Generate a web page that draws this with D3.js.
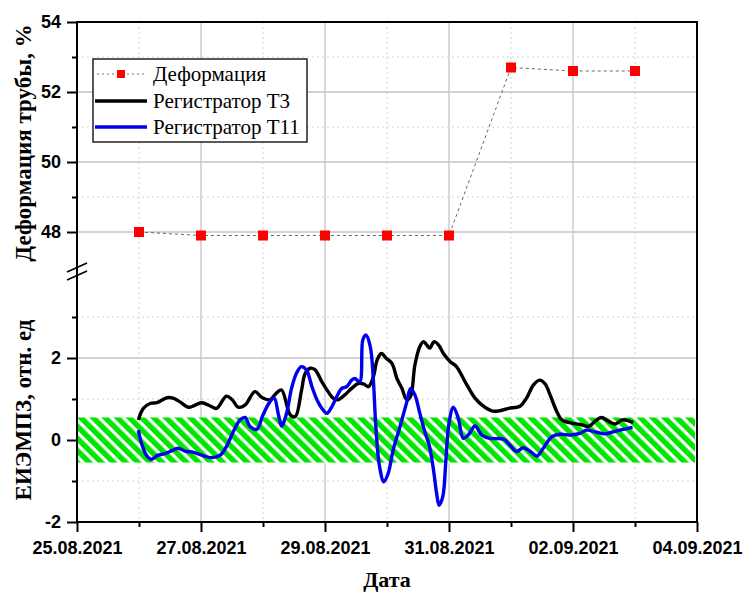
<!DOCTYPE html>
<html>
<head>
<meta charset="utf-8">
<script src="https://cdn.jsdelivr.net/npm/d3@7"></script>
<style>
  body { margin: 0; background: #fff; }
  .serif { font-family: "Liberation Serif", "Times New Roman", Times, serif; }
  .sans { font-family: "Liberation Sans", Arial, Helvetica, sans-serif; font-weight: bold; }
</style>
</head>
<body>
<div id="chart"></div>
<script>
// Deformation (days from 25.08.2021)
const deformDays = [1, 2, 3, 4, 5, 6, 7, 8, 9];
const deformValues = [48.0, 47.9, 47.9, 47.9, 47.9, 47.9, 52.7, 52.6, 52.6];

// Registrator T3
const t3Days = [0.99,1.07,1.18,1.29,1.45,1.55,1.66,1.80,1.88,2.01,2.15,2.25,2.41,2.50,2.60,2.71,2.87,2.98,3.11,3.22,3.30,3.44,3.52,3.62,3.68,3.76,3.84,3.95,4.05,4.13,4.21,4.32,4.43,4.54,4.62,4.70,4.78,4.84,4.91,4.99,5.08,5.16,5.24,5.32,5.38,5.45,5.53,5.59,5.64,5.69,5.76,5.83,5.91,6.02,6.12,6.26,6.42,6.55,6.69,6.80,6.96,7.15,7.25,7.36,7.46,7.55,7.63,7.74,7.82,7.98,8.14,8.25,8.35,8.46,8.57,8.68,8.79,8.89,8.97];
const t3Values = [0.49,0.77,0.89,0.91,1.03,1.02,0.93,0.80,0.83,0.91,0.83,0.77,1.07,0.99,0.80,0.85,1.18,1.04,0.98,1.15,1.22,0.61,0.57,1.20,1.62,1.75,1.71,1.42,1.18,1.02,0.98,1.10,1.26,1.38,1.37,1.30,1.54,1.95,2.11,1.99,1.87,1.50,1.26,0.98,1.06,1.83,2.28,2.40,2.32,2.24,2.40,2.32,2.11,1.91,1.79,1.42,1.02,0.83,0.71,0.71,0.77,0.83,1.02,1.34,1.46,1.37,1.10,0.69,0.49,0.41,0.37,0.33,0.45,0.55,0.46,0.39,0.49,0.47,0.43];

// Registrator T11
const t11Days = [0.99,1.04,1.12,1.20,1.31,1.42,1.53,1.63,1.74,1.88,2.01,2.15,2.31,2.41,2.52,2.63,2.71,2.79,2.90,3.00,3.11,3.18,3.25,3.30,3.38,3.46,3.54,3.62,3.70,3.79,3.87,3.95,4.03,4.11,4.19,4.27,4.35,4.43,4.48,4.56,4.61,4.66,4.73,4.78,4.82,4.88,4.95,5.02,5.10,5.21,5.32,5.38,5.45,5.53,5.61,5.68,5.75,5.80,5.84,5.90,5.95,6.00,6.07,6.15,6.23,6.31,6.42,6.53,6.66,6.88,6.98,7.09,7.20,7.31,7.42,7.52,7.66,7.79,7.95,8.11,8.22,8.38,8.52,8.65,8.81,8.96];
const t11Values = [0.24,-0.08,-0.37,-0.47,-0.37,-0.33,-0.26,-0.20,-0.27,-0.30,-0.37,-0.43,-0.37,-0.16,0.20,0.49,0.55,0.33,0.26,0.61,0.93,1.02,0.61,0.34,0.65,1.26,1.63,1.79,1.71,1.30,0.98,0.77,0.65,0.81,1.06,1.26,1.30,1.46,1.50,1.42,2.44,2.56,2.28,1.46,0.33,-0.65,-1.02,-0.81,-0.24,0.33,0.93,1.26,1.10,0.65,0.20,-0.12,-0.73,-1.30,-1.59,-1.38,-0.49,0.41,0.80,0.53,0.04,0.12,0.34,0.12,0.04,0.02,-0.12,-0.28,-0.19,-0.28,-0.39,-0.20,0.08,0.14,0.12,0.16,0.24,0.19,0.15,0.20,0.26,0.31];

// Ticks and band
const xTickLabels = ["25.08.2021", "27.08.2021", "29.08.2021", "31.08.2021", "02.09.2021", "04.09.2021"];
const topMajorTicks = [48, 50, 52, 54];
const topMinorTicks = [49, 51, 53];
const bottomMajorTicks = [-2, 0, 2];
const bottomMinorTicks = [-1, 1, 3];
const bandRange = [-0.55, 0.55];
const legendLabels = ["Деформация", "Регистратор Т3", "Регистратор Т11"];

const startDate = new Date(2021, 7, 25);
const toDate = d => new Date(startDate.getTime() + d * 86400000);
const parseLabel = s => { let p = s.split("."); return new Date(+p[2], +p[1] - 1, +p[0]); };

let svgW = 743, svgH = 594;
let plotL = 77, plotR = 697, plotT = 22, plotB = 522;

let svg = d3.select("#chart")
    .append("svg")
    .attr("width", svgW)
    .attr("height", svgH);

// Scales
let x = d3.scaleTime()
    .domain([startDate, parseLabel("04.09.2021")])
    .range([plotL, plotR]);
let yTop = d3.scaleLinear().domain([47, 54]).range([267, plotT]);
let yBot = d3.scaleLinear().domain([-2, 4]).range([plotB, 276]);

let majorDates = xTickLabels.map(parseLabel);
let minorDates = d3.range(0, 5).map(i => d3.timeDay.offset(majorDates[i], 1));

// Hatch pattern
let defs = svg.append("defs");
let pat = defs.append("pattern")
    .attr("id", "hatch")
    .attr("patternUnits", "userSpaceOnUse")
    .attr("width", 8.6)
    .attr("height", 8.6)
    .attr("patternTransform", "rotate(-45)");
pat.append("rect").attr("width", 8.6).attr("height", 8.6).attr("fill", "#fff");
pat.append("rect").attr("width", 5.4).attr("height", 8.6).attr("fill", "#00e600");

// Grid lines
let grid = svg.append("g");
grid.selectAll(".vmaj").data(majorDates.slice(1, -1)).enter().append("line")
    .attr("x1", d => x(d)).attr("x2", d => x(d))
    .attr("y1", plotT).attr("y2", plotB)
    .attr("stroke", "#c4c4c4").attr("stroke-width", 1.3);
grid.selectAll(".vmin").data(minorDates).enter().append("line")
    .attr("x1", d => x(d)).attr("x2", d => x(d))
    .attr("y1", plotT).attr("y2", plotB)
    .attr("stroke", "#d4d4d4").attr("stroke-width", 1).attr("stroke-dasharray", "2,3");
grid.selectAll(".htmaj").data([48, 50, 52]).enter().append("line")
    .attr("x1", plotL).attr("x2", plotR)
    .attr("y1", d => yTop(d)).attr("y2", d => yTop(d))
    .attr("stroke", "#c4c4c4").attr("stroke-width", 1.3);
grid.selectAll(".htmin").data(topMinorTicks).enter().append("line")
    .attr("x1", plotL).attr("x2", plotR)
    .attr("y1", d => yTop(d)).attr("y2", d => yTop(d))
    .attr("stroke", "#d4d4d4").attr("stroke-width", 1).attr("stroke-dasharray", "2,3");
grid.selectAll(".hbmaj").data([0, 2]).enter().append("line")
    .attr("x1", plotL).attr("x2", plotR)
    .attr("y1", d => yBot(d)).attr("y2", d => yBot(d))
    .attr("stroke", "#c4c4c4").attr("stroke-width", 1.3);
grid.selectAll(".hbmin").data(bottomMinorTicks).enter().append("line")
    .attr("x1", plotL).attr("x2", plotR)
    .attr("y1", d => yBot(d)).attr("y2", d => yBot(d))
    .attr("stroke", "#d4d4d4").attr("stroke-width", 1).attr("stroke-dasharray", "2,3");

// Hatched band
svg.append("rect")
    .attr("x", plotL)
    .attr("y", yBot(bandRange[1]))
    .attr("width", plotR - plotL - 2)
    .attr("height", yBot(bandRange[0]) - yBot(bandRange[1]))
    .attr("fill", "url(#hatch)");

// Lines
let lineBot = d3.line()
    .x(d => x(toDate(d[0])))
    .y(d => yBot(d[1]))
    .curve(d3.curveCatmullRom);

svg.append("path")
    .datum(t3Days.map((d, i) => [d, t3Values[i]]))
    .attr("d", lineBot)
    .attr("fill", "none")
    .attr("stroke", "#000")
    .attr("stroke-width", 3.4)
    .attr("stroke-linejoin", "round");

svg.append("path")
    .datum(t11Days.map((d, i) => [d, t11Values[i]]))
    .attr("d", lineBot)
    .attr("fill", "none")
    .attr("stroke", "#0000ee")
    .attr("stroke-width", 3.4)
    .attr("stroke-linejoin", "round");

// Deformation
let deformData = deformDays.map((d, i) => [d, deformValues[i]]);
svg.append("path")
    .datum(deformData)
    .attr("d", d3.line().x(d => x(toDate(d[0]))).y(d => yTop(d[1])))
    .attr("fill", "none")
    .attr("stroke", "#666")
    .attr("stroke-width", 1)
    .attr("stroke-dasharray", "3,3");
svg.selectAll(".pt").data(deformData).enter().append("rect")
    .attr("x", d => x(toDate(d[0])) - 5)
    .attr("y", d => yTop(d[1]) - 5)
    .attr("width", 10).attr("height", 10)
    .attr("fill", "#f00");

// Frame
svg.append("rect")
    .attr("x", plotL).attr("y", plotT)
    .attr("width", plotR - plotL).attr("height", plotB - plotT)
    .attr("fill", "none").attr("stroke", "#000").attr("stroke-width", 2);

// X axis
let xAxis = svg.append("g")
    .attr("transform", "translate(0," + plotB + ")")
    .call(d3.axisBottom(x).tickValues(majorDates).tickSize(10).tickFormat((d, i) => xTickLabels[i]));
svg.append("g")
    .attr("transform", "translate(0," + plotB + ")")
    .call(d3.axisBottom(x).tickValues(minorDates).tickSize(5).tickFormat(""));

// Y axis top
svg.append("g")
    .attr("transform", "translate(" + plotL + ",0)")
    .call(d3.axisLeft(yTop).tickValues(topMajorTicks).tickSize(10).tickPadding(6).tickFormat(d3.format("d")));
svg.append("g")
    .attr("transform", "translate(" + plotL + ",0)")
    .call(d3.axisLeft(yTop).tickValues(topMinorTicks).tickSize(5).tickFormat(""));

// Y axis bottom
svg.append("g")
    .attr("transform", "translate(" + plotL + ",0)")
    .call(d3.axisLeft(yBot).tickValues(bottomMajorTicks).tickSize(10).tickPadding(6).tickFormat(d => d < 0 ? "-" + Math.abs(d) : d));
svg.append("g")
    .attr("transform", "translate(" + plotL + ",0)")
    .call(d3.axisLeft(yBot).tickValues(bottomMinorTicks).tickSize(5).tickFormat(""));

svg.selectAll(".domain").remove();
svg.selectAll("g").attr("font-family", null).attr("font-size", null);
svg.selectAll(".tick line").attr("stroke", "#000").attr("stroke-width", 2);
svg.selectAll(".tick text")
    .attr("class", "sans")
    .style("font-size", "18px")
    .attr("fill", "#000");
xAxis.selectAll(".tick text").attr("dy", "1.05em");

// Left axis line and break marks
svg.append("line")
    .attr("x1", plotL).attr("x2", plotL).attr("y1", plotT - 1).attr("y2", plotB + 1)
    .attr("stroke", "#000").attr("stroke-width", 2);
[272, 280].forEach(yy => {
    svg.append("line")
        .attr("x1", plotL - 10).attr("y1", yy)
        .attr("x2", plotL + 10).attr("y2", yy - 9)
        .attr("stroke", "#000").attr("stroke-width", 1.6);
});

// Axis titles
svg.append("text")
    .attr("class", "serif")
    .attr("transform", "translate(31," + 143 + ")rotate(-90)")
    .style("text-anchor", "middle")
    .style("font-weight", "bold")
    .style("font-size", "23px")
    .text("Деформация трубы, %");
svg.append("text")
    .attr("class", "serif")
    .attr("transform", "translate(31," + 410 + ")rotate(-90)")
    .style("text-anchor", "middle")
    .style("font-weight", "bold")
    .style("font-size", "23px")
    .text("ЕИЭМПЗ, отн. ед");
svg.append("text")
    .attr("class", "serif")
    .attr("x", 387).attr("y", 587)
    .style("text-anchor", "middle")
    .style("font-weight", "bold")
    .style("font-size", "22px")
    .text("Дата");

// Legend
let legend = svg.append("g");
legend.append("rect")
    .attr("x", 93).attr("y", 59).attr("width", 214).attr("height", 83)
    .attr("fill", "#fff").attr("stroke", "#000").attr("stroke-width", 1.3);
let rowY = [74, 101, 127];
legend.append("line")
    .attr("x1", 97).attr("x2", 147).attr("y1", rowY[0]).attr("y2", rowY[0])
    .attr("stroke", "#777").attr("stroke-width", 1).attr("stroke-dasharray", "2,3");
legend.append("rect")
    .attr("x", 117).attr("y", rowY[0] - 4).attr("width", 8).attr("height", 8)
    .attr("fill", "#f00");
legend.append("line")
    .attr("x1", 95).attr("x2", 147).attr("y1", rowY[1]).attr("y2", rowY[1])
    .attr("stroke", "#000").attr("stroke-width", 3.4);
legend.append("line")
    .attr("x1", 95).attr("x2", 147).attr("y1", rowY[2]).attr("y2", rowY[2])
    .attr("stroke", "#0000ee").attr("stroke-width", 3.4);
legend.selectAll(".lt").data(legendLabels).enter().append("text")
    .attr("class", "serif")
    .attr("x", 153)
    .attr("y", (d, i) => rowY[i] + 7)
    .style("font-size", "21px")
    .text(d => d);
</script>
</body>
</html>
